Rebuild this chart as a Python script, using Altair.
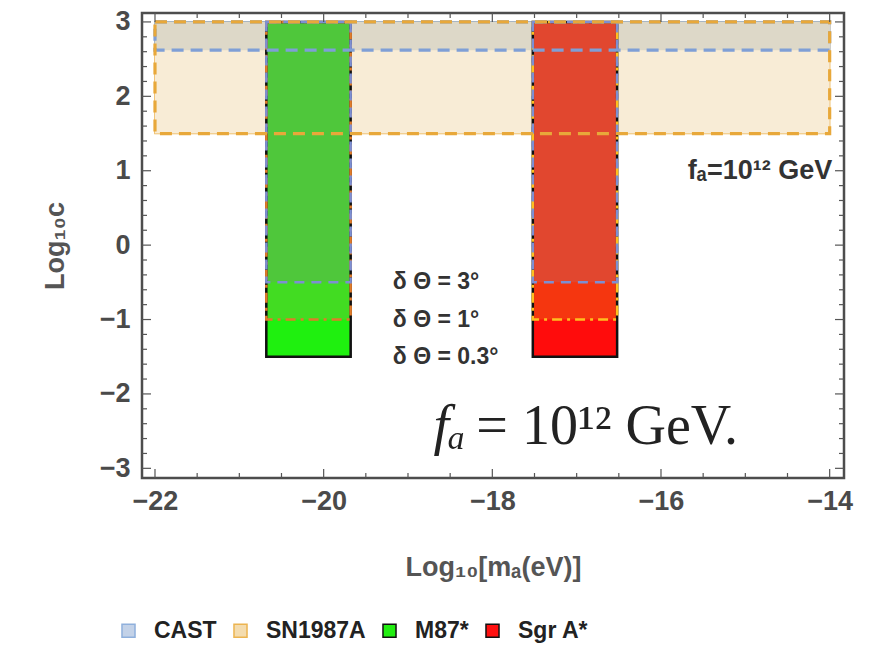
import altair as alt
import pandas as pd

# ---------------- data ----------------
band_names = ["SN1987A", "CAST"]
band_x_min = [-22.0, -22.0]
band_x_max = [-14.0, -14.0]
band_y_min = [1.5, 2.62]
band_y_max = [3.0, 3.0]

sources = ["M87*", "Sgr A*"]
source_x_min = [-20.68, -17.52]
source_x_max = [-19.68, -16.52]

thresholds = ["δ Θ = 0.3°", "δ Θ = 1°", "δ Θ = 3°"]
threshold_y_min = [-1.5, -1.0, -0.5]
region_top = 3.0

legend_order = ["CAST", "SN1987A", "M87*", "Sgr A*"]

x_major = [-22, -20, -18, -16, -14]
x_minor = [-21.5, -21, -20.5, -19.5, -19, -18.5, -17.5, -17, -16.5, -15.5, -15, -14.5]
y_major = [-3, -2, -1, 0, 1, 2, 3]
y_minor = [-2.8, -2.6, -2.4, -2.2, -1.8, -1.6, -1.4, -1.2, -0.8, -0.6, -0.4, -0.2,
           0.2, 0.4, 0.6, 0.8, 1.2, 1.4, 1.6, 1.8, 2.2, 2.4, 2.6, 2.8]

annot_fa_small = "fₐ=10¹² GeV"
annot_fa_big_left = "fₐ"
annot_fa_big_right = "= 10¹² GeV."
x_title = "Log₁₀[mₐ(eV)]"
y_title = "Log₁₀c"

# ---------------- styles ----------------
W, H = 702, 465
X_DOMAIN = [-22.154, -13.83]
Y_DOMAIN = [-3.13, 3.12]
SANS = "Liberation Sans"
SERIF = "Liberation Serif"

legend_fill = ["#c3d2e8", "#f4dcae", "#22ee11", "#ff1010"]
legend_stroke = ["#8fb0dc", "#ecb450", "#111111", "#111111"]
legend_dash = [[4, 3], [4, 3], [1, 0], [1, 0]]

fill_colors = {
    "SN1987A": "#f8ecd6", "CAST": "#ddd8c8",
    "M87*|0": "#1ff00f", "Sgr A*|0": "#ff0c0c",
    "M87*|1": "#42dc22", "Sgr A*|1": "#f5360f",
    "M87*|2": "#4fc73b", "Sgr A*|2": "#e1472f",
}
one_deg_stroke = {"M87*": "#e07b2a", "Sgr A*": "#ffbf1f"}
three_deg_stroke = "#7d8fd2"

# ---------------- tables ----------------
regions = pd.DataFrame({
    "source": band_names + sources,
    "x1": band_x_min + source_x_min,
    "x2": band_x_max + source_x_max,
    "y1": band_y_min + [threshold_y_min[0]] * len(sources),
    "y2": band_y_max + [region_top] * len(sources),
})

fill_rows = []
for bi, b in enumerate(band_names):
    fill_rows.append({"key": b, "source": b, "level": -1,
                      "x1": band_x_min[bi], "x2": band_x_max[bi],
                      "y1": band_y_min[bi], "y2": band_y_max[bi]})
for ti in range(len(thresholds)):
    for si, s in enumerate(sources):
        fill_rows.append({"key": f"{s}|{ti}", "source": s, "level": ti,
                          "x1": source_x_min[si], "x2": source_x_max[si],
                          "y1": threshold_y_min[ti], "y2": region_top})
fills = pd.DataFrame(fill_rows)
fill_keys = list(fills["key"])
fill_range = [fill_colors[k] for k in fill_keys]

legend_def = alt.Legend(
    title=None, orient="none", legendX=-25, legendY=606, direction="horizontal",
    symbolType="square", symbolSize=170, symbolStrokeWidth=1.5,
    labelFont=SANS, labelFontSize=23, labelFontWeight="bold", labelColor="#222222",
    labelOffset=14, columnPadding=12,
)

xs = alt.Scale(domain=X_DOMAIN, nice=False, zero=False)
ys = alt.Scale(domain=Y_DOMAIN, nice=False, zero=False)

# legend carrier (fully covered by the layers drawn above it)
base = alt.Chart(regions).mark_rect(strokeWidth=1.5).encode(
    x=alt.X("x1:Q", scale=xs, axis=alt.Axis(values=x_major, title=x_title, format="d")),
    x2="x2:Q",
    y=alt.Y("y1:Q", scale=ys, axis=alt.Axis(values=y_major, title=y_title, format="d")),
    y2="y2:Q",
    color=alt.Color("source:N", scale=alt.Scale(domain=legend_order, range=legend_fill), legend=legend_def),
    stroke=alt.Stroke("source:N", scale=alt.Scale(domain=legend_order, range=legend_stroke), legend=legend_def),
    strokeDash=alt.StrokeDash("source:N", scale=alt.Scale(domain=legend_order, range=legend_dash), legend=legend_def),
)

fill_layer = alt.Chart(fills).mark_rect().encode(
    x="x1:Q", x2="x2:Q", y="y1:Q", y2="y2:Q",
    fill=alt.Fill("key:N", scale=alt.Scale(domain=fill_keys, range=fill_range), legend=None),
)

layers = [base, fill_layer]

# 0.3 degree outlines
layers.append(
    alt.Chart(fills).transform_filter(alt.datum.level == 0).mark_rect(
        fillOpacity=0, stroke="#111111", strokeWidth=2.5
    ).encode(x="x1:Q", x2="x2:Q", y="y1:Q", y2="y2:Q")
)
# 1 degree outlines
for s in sources:
    layers.append(
        alt.Chart(fills).transform_filter(
            (alt.datum.source == s) & (alt.datum.level == 1)
        ).mark_rect(fillOpacity=0, stroke=one_deg_stroke[s], strokeWidth=2.5,
                    strokeDash=[10, 5, 3, 5]).encode(
            x="x1:Q", x2="x2:Q", y="y1:Q", y2="y2:Q")
    )
# 3 degree outlines
layers.append(
    alt.Chart(fills).transform_filter(alt.datum.level == 2).mark_rect(
        fillOpacity=0, stroke=three_deg_stroke, strokeWidth=2.5, strokeDash=[10, 7]
    ).encode(x="x1:Q", x2="x2:Q", y="y1:Q", y2="y2:Q")
)
# band outlines on top (CAST then SN1987A)
for name, col in (("CAST", "#7f9fd6"), ("SN1987A", "#e8a83a")):
    layers.append(
        alt.Chart(fills).transform_filter(alt.datum.key == name).mark_rect(
            fillOpacity=0, stroke=col, strokeWidth=3.2, strokeDash=[12, 7]
        ).encode(x="x1:Q", x2="x2:Q", y="y1:Q", y2="y2:Q")
    )

# frame ticks (inward)
TICK = "#555555"
def xt(vals, a, b):
    return alt.Chart(pd.DataFrame({"v": vals})).mark_rule(color=TICK, strokeWidth=1.2).encode(
        x="v:Q", y=alt.value(a), y2=alt.value(b))
def yt(vals, a, b):
    return alt.Chart(pd.DataFrame({"v": vals})).mark_rule(color=TICK, strokeWidth=1.2).encode(
        y="v:Q", x=alt.value(a), x2=alt.value(b))

layers += [
    xt(x_major, H, H - 9), xt(x_minor, H, H - 5), xt(x_major, 0, 9), xt(x_minor, 0, 5),
    yt(y_major, 0, 9), yt(y_minor, 0, 5), yt(y_major, W, W - 9), yt(y_minor, W, W - 5),
]

# annotations
thr_text = pd.DataFrame({"t": thresholds, "x": [-19.18] * 3, "y": threshold_y_min})
layers.append(
    alt.Chart(thr_text).mark_text(align="left", baseline="middle", font=SANS, fontSize=23,
                                  fontWeight="bold", color="#333333").encode(
        x="x:Q", y="y:Q", text="t:N")
)
small = pd.DataFrame({"t": [annot_fa_small], "x": [-13.97], "y": [1.0]})
layers.append(
    alt.Chart(small).mark_text(align="right", baseline="middle", font=SANS, fontSize=27,
                               fontWeight="bold", color="#333333").encode(
        x="x:Q", y="y:Q", text="t:N")
)
big_l = pd.DataFrame({"t": [annot_fa_big_left], "x": [-18.32], "y": [-2.67]})
big_r = pd.DataFrame({"t": [annot_fa_big_right], "x": [-18.19], "y": [-2.67]})
layers.append(
    alt.Chart(big_l).mark_text(align="right", baseline="alphabetic", font=SERIF, fontSize=56,
                               fontStyle="italic", color="#222222").encode(
        x="x:Q", y="y:Q", text="t:N")
)
layers.append(
    alt.Chart(big_r).mark_text(align="left", baseline="alphabetic", font=SERIF, fontSize=56,
                               color="#222222").encode(
        x="x:Q", y="y:Q", text="t:N")
)

chart = alt.layer(*layers).properties(
    width=W, height=H,
    autosize=alt.AutoSizeParams(type="none"),
    padding={"left": 134, "top": 5, "right": 20, "bottom": 170},
).configure_view(
    stroke="#4d4d4d", strokeWidth=2.5
).configure_axis(
    grid=False, ticks=False, domain=False,
    labelFont=SANS, labelFontWeight="bold", labelFontSize=27, labelColor="#4a4a4a",
    titleFont=SANS, titleFontWeight="bold", titleFontSize=27, titleColor="#555555",
).configure_axisX(
    labelPadding=10, titlePadding=40
).configure_axisY(
    labelPadding=12, titlePadding=30
)

chart.save("out.html", embed_options={"renderer": "svg", "actions": False})
